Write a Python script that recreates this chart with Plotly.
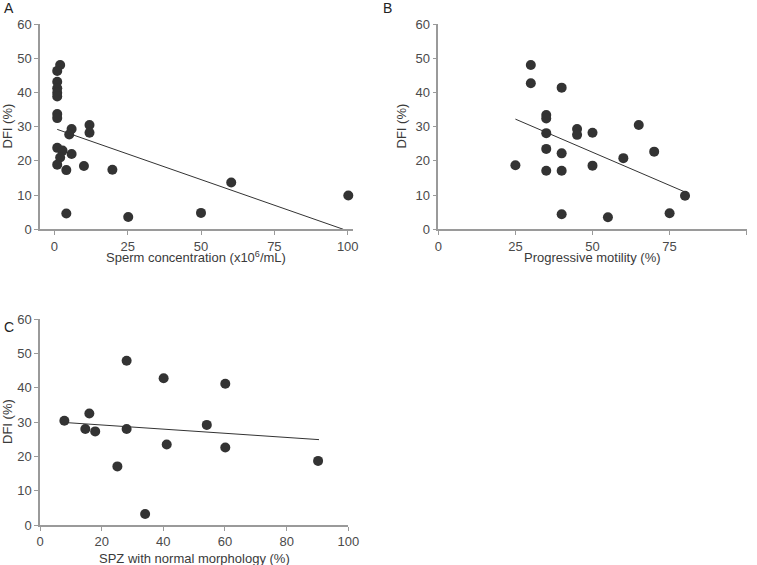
import plotly.graph_objects as go

# Panel A: sperm concentration vs DFI
a_conc = [2, 1, 1, 1, 1, 1, 1, 1, 12, 12, 5.9, 5.1, 1, 2.8, 2, 5.9, 1, 4.1, 10.1, 19.8, 4.1, 25.2, 50, 60.3, 100.2]
a_dfi = [48.0, 46.3, 43.1, 41.2, 39.9, 38.8, 33.7, 32.5, 30.5, 28.2, 29.3, 27.7, 23.8, 23.0, 21.0, 22.0, 18.9, 17.3, 18.5, 17.4, 4.6, 3.6, 4.8, 13.7, 9.9]
a_trend_x = [1, 98.5]
a_trend_y = [29.2, 0]

# Panel B: progressive motility vs DFI
b_mot = [30, 30, 40, 35, 35, 45, 45, 50, 35, 65, 35, 40, 70, 60, 25, 50, 35, 40, 80, 40, 75, 55]
b_dfi = [48.0, 42.7, 41.4, 33.4, 32.4, 29.3, 27.6, 28.2, 28.1, 30.5, 23.5, 22.2, 22.7, 20.8, 18.7, 18.6, 17.1, 17.1, 9.8, 4.4, 4.7, 3.5]
b_trend_x = [25, 80]
b_trend_y = [32.2, 10.9]

# Panel C: normal morphology vs DFI
c_morph = [7.9, 14.7, 16, 17.9, 28.1, 28.1, 25.1, 34.1, 40.1, 41.1, 54.1, 60.1, 60.1, 90.2]
c_dfi = [30.4, 28.0, 32.5, 27.3, 47.9, 28.0, 17.1, 3.2, 42.8, 23.5, 29.2, 41.2, 22.6, 18.7]
c_trend_x = [8, 90.5]
c_trend_y = [29.9, 24.9]

y_ticks = [0, 10, 20, 30, 40, 50, 60]
ab_x_ticks = [0, 25, 50, 75, 100]
c_x_ticks = [0, 20, 40, 60, 80, 100]

W, H = 757, 565
PT = "#333333"
AX = "#9a9a9a"
FONT = "Liberation Sans, Arial, sans-serif"

fig = go.Figure()

panels = [
    (a_conc, a_dfi, a_trend_x, a_trend_y, "x", "y"),
    (b_mot, b_dfi, b_trend_x, b_trend_y, "x2", "y2"),
    (c_morph, c_dfi, c_trend_x, c_trend_y, "x3", "y3"),
]
for xs, ys, tx, ty, xa, ya in panels:
    fig.add_trace(go.Scatter(x=tx, y=ty, mode="lines", line=dict(color=PT, width=1),
                             xaxis=xa, yaxis=ya, showlegend=False, hoverinfo="skip"))
    fig.add_trace(go.Scatter(x=xs, y=ys, mode="markers", marker=dict(color=PT, size=10),
                             xaxis=xa, yaxis=ya, showlegend=False, cliponaxis=False))

def px_x(p):
    return p / W

def px_y(p):
    return 1 - p / H

ax_common = dict(showgrid=False, zeroline=False, showline=True, linecolor=AX, linewidth=1.5,
                 ticks="outside", ticklen=4, tickcolor=AX, tickwidth=1.2, automargin=False,
                 tickfont=dict(family=FONT, size=13, color="#4a4a4a"), mirror=False)

fig.update_layout(
    width=W, height=H, margin=dict(l=0, r=0, t=0, b=0, autoexpand=False),
    plot_bgcolor="white", paper_bgcolor="white",
    xaxis=dict(domain=[px_x(40), px_x(353)], range=[-4.87, 101.8], tickvals=ab_x_ticks,
               anchor="y", **ax_common),
    yaxis=dict(domain=[px_y(229.3), px_y(24)], range=[0, 60], tickvals=y_ticks,
               anchor="x", **ax_common),
    xaxis2=dict(domain=[px_x(438.3), px_x(746.7)], range=[0, 100], tickvals=ab_x_ticks,
                anchor="y2", **ax_common),
    yaxis2=dict(domain=[px_y(229.3), px_y(24)], range=[0, 60], tickvals=y_ticks,
                anchor="x2", **ax_common),
    xaxis3=dict(domain=[px_x(40), px_x(348.3)], range=[0, 100], tickvals=c_x_ticks,
                anchor="y3", **ax_common),
    yaxis3=dict(domain=[px_y(525), px_y(319.3)], range=[0, 60], tickvals=y_ticks,
                anchor="x3", **ax_common),
)

title_font = dict(family=FONT, size=13, color="#3a3a3a")
letter_font = dict(family=FONT, size=14, color="#222222")

annots = [
    ("A", 2, 8, letter_font, 0, "left"),
    ("B", 381, 8, letter_font, 0, "left"),
    ("C", 2, 327, letter_font, 0, "left"),
    ("DFI (%)", 7, 126.5, title_font, -90, "center"),
    ("DFI (%)", 401, 126.5, title_font, -90, "center"),
    ("DFI (%)", 7, 422, title_font, -90, "center"),
    ("Sperm concentration (x10<sup>6</sup>/mL)", 196.5, 257, title_font, 0, "center"),
    ("Progressive motility (%)", 592.5, 257, title_font, 0, "center"),
    ("SPZ with normal morphology (%)", 194, 558, title_font, 0, "center"),
]
for text, x, y, f, ang, xa in annots:
    fig.add_annotation(text=text, x=px_x(x), y=px_y(y), xref="paper", yref="paper",
                       showarrow=False, font=f, textangle=ang, xanchor=xa, yanchor="middle")

fig.write_html("out.html", config={"displayModeBar": False},
               post_script="document.body.style.margin='0';document.body.style.overflow='hidden';")
